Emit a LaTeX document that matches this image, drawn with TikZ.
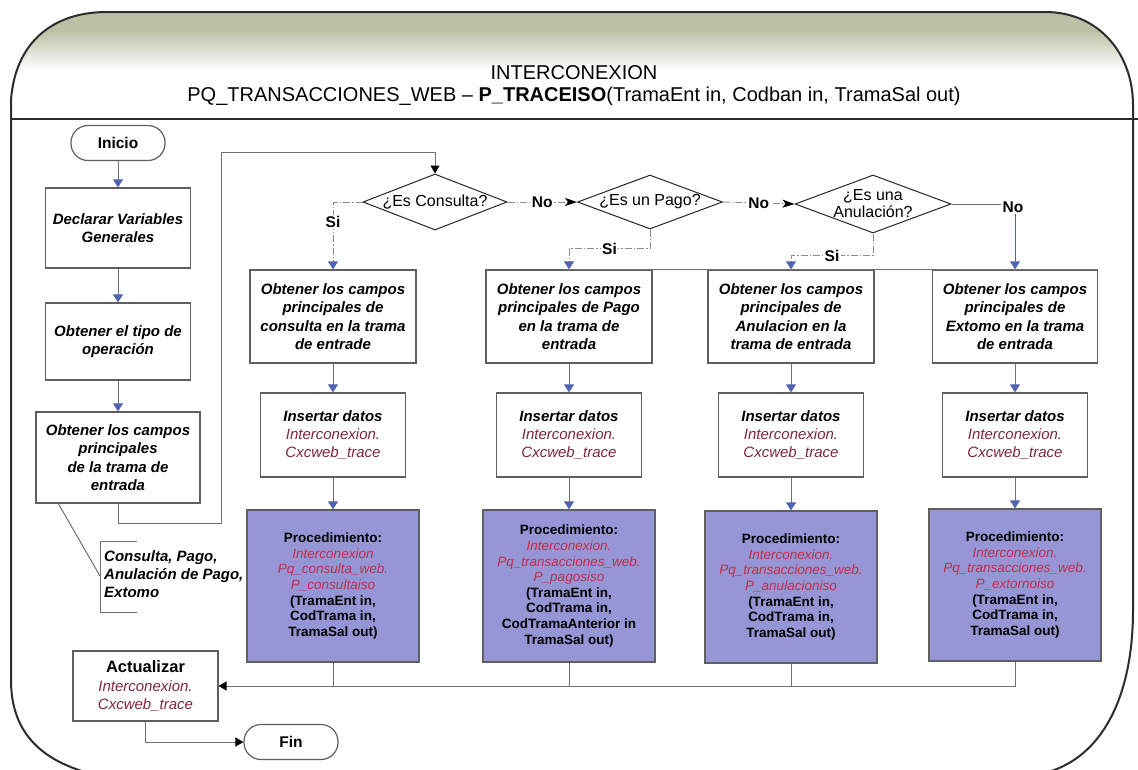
\documentclass[tikz,border=0pt]{standalone}
\usepackage{fontspec}
\setmainfont{Liberation Sans}
\usetikzlibrary{arrows.meta,shapes.geometric,calc}

\definecolor{hdrc}{RGB}{186,194,166}
\definecolor{framec}{RGB}{45,45,45}
\definecolor{linec}{RGB}{112,112,112}
\definecolor{dashc}{RGB}{140,140,140}
\definecolor{bluec}{RGB}{80,100,178}
\definecolor{boxc}{RGB}{95,95,95}
\definecolor{procc}{RGB}{150,150,214}
\definecolor{maroonc}{RGB}{125,40,60}
\definecolor{crimc}{RGB}{195,45,75}

% coloured italic fragments inside boxes
\newcommand\mrn[1]{{\mdseries\itshape\color{maroonc}#1}}
\newcommand\prt[1]{{\mdseries\itshape\color{crimc}#1}}

\begin{document}
\begin{tikzpicture}[x=1pt,y=-1pt,
  box/.style={draw=boxc, line width=1.2pt, fill=white, align=center, inner sep=0pt,
    font=\bfseries\itshape\fontsize{15}{18.3}\selectfont},
  proc/.style={draw=boxc, line width=1.2pt, fill=procc, align=center, inner sep=0pt,
    minimum width=172pt, minimum height=152pt, font=\fontsize{13.5}{15.6}\selectfont},
  term/.style={draw=boxc, line width=1.2pt, fill=white, rounded corners=17pt, inner sep=0pt,
    minimum width=94pt, minimum height=35pt, font=\bfseries\fontsize{15.5}{18}\selectfont},
  dia/.style={diamond, draw=black!85, line width=1pt, fill=white, inner sep=0pt},
  dtxt/.style={align=center, inner sep=0pt, font=\fontsize{16}{17}\selectfont},
  lbl/.style={fill=white, inner sep=1.5pt, font=\bfseries\fontsize{15.5}{18}\selectfont},
  anno/.style={align=left, inner sep=0pt, font=\bfseries\itshape\fontsize{15}{18}\selectfont},
  title/.style={align=center, inner sep=0pt, font=\fontsize{20}{22}\selectfont},
  plain/.style={draw=linec, line width=1pt},
  flow/.style={draw=linec, line width=1pt, -{Triangle[width=10pt,length=8pt,color=bluec]}},
  flowd/.style={flow, draw=dashc, dash pattern=on 7pt off 2pt on 1.5pt off 2pt},
  blk/.style={draw=linec, line width=1pt, -{Triangle[width=9pt,length=8pt,color=black]}},
  noarr/.style={draw=dashc, line width=0.9pt, dash pattern=on 7pt off 2pt on 1.5pt off 2pt,
    -{Stealth[length=12pt,width=8pt,inset=3pt,color=black]}},
]
\useasboundingbox (0,0) rectangle (1138,769);
\clip (0,0) rectangle (1138,769);

% header band
\begin{scope}
  \clip (11,119) -- (11,100) .. controls (15,45) and (50,12) .. (107,12) -- (1045,12)
        .. controls (1100,12) and (1133,55) .. (1133,105) -- (1133,119) -- cycle;
  \fill[hdrc] (0,0) rectangle (1138,32);
  \shade[top color=hdrc, bottom color=white] (0,31) rectangle (1138,70);
\end{scope}

% outer frame and header separator
\draw[framec, line width=2pt] (85,772) .. controls (35,757) and (11,727) .. (11,680)
  -- (11,100) .. controls (15,45) and (50,12) .. (107,12) -- (1045,12)
  .. controls (1100,12) and (1133,55) .. (1133,105) -- (1133,610)
  .. controls (1133,700) and (1100,757) .. (1048,772);
\draw[framec, line width=2pt] (11,119) -- (1138,119);

\node[title] (ttl) at (574,86) {INTERCONEXION\\PQ\_TRANSACCIONES\_WEB – \textbf{P\_TRACEISO}(TramaEnt in, Codban in, TramaSal out)};

% left column
\node[term] (ini) at (118,143) {Inicio};
\node[box, minimum width=145pt, minimum height=80pt] (dec) at (118,228) {Declarar Variables\\Generales};
\node[box, minimum width=145pt, minimum height=77pt] (tipo) at (118,341.5) {Obtener el tipo de\\operación};
\node[box, minimum width=164pt, minimum height=91pt] (cp0) at (118,457.5) {Obtener los campos\\principales\\de la trama de\\entrada};
\node[anno, anchor=west] (ann) at (104,574) {Consulta, Pago,\\Anulación de Pago,\\Extomo};
\node[box, minimum width=145pt, minimum height=70pt] (act) at (145.5,686) {\textbf{\upshape\fontsize{16.5}{18.3}\selectfont Actualizar}\\\mrn{Interconexion.}\\\mrn{Cxcweb\_trace}};
\node[term] (fin) at (291,742) {Fin};

% decisions
\node[dia, minimum width=144pt, minimum height=56pt] (d1) at (435,202) {};
\node[dtxt] (d1t) at (d1) {¿Es Consulta?};
\node[dia, minimum width=145pt, minimum height=54pt] (d2) at (650,202) {};
\node[dtxt] (d2t) at (d2) {¿Es un Pago?};
\node[dia, minimum width=156pt, minimum height=58pt] (d3) at (873,204) {};
\node[dtxt] (d3t) at (d3) {¿Es una\\Anulación?};

% operation columns
\node[box, minimum width=166pt, minimum height=93pt] (c1) at (333,316.5) {Obtener los campos\\principales de\\consulta en la trama\\de entrade};
\node[box, minimum width=166pt, minimum height=93pt] (c2) at (569,316.5) {Obtener los campos\\principales de Pago\\en la trama de\\entrada};
\node[box, minimum width=166pt, minimum height=93pt] (c3) at (791,316.5) {Obtener los campos\\principales de\\Anulacion en la\\trama de entrada};
\node[box, minimum width=165pt, minimum height=93pt] (c4) at (1015,316.5) {Obtener los campos\\principales de\\Extomo en la trama\\de entrada};

\foreach \n/\x in {i1/333, i2/569, i3/791, i4/1015}
  \node[box, minimum width=145pt, minimum height=84pt] (\n) at (\x,435) {Insertar datos\\\mrn{Interconexion.}\\\mrn{Cxcweb\_trace}};

\node[proc] (p1) at (333,586) {\textbf{Procedimiento:}\\\prt{Interconexion}\\\prt{Pq\_consulta\_web.}\\\prt{P\_consultaiso}\\\textbf{(TramaEnt in,}\\\textbf{CodTrama in,}\\\textbf{TramaSal out)}};
\node[proc] (p2) at (569,586) {\textbf{Procedimiento:}\\\prt{Interconexion.}\\\prt{Pq\_transacciones\_web.}\\\prt{P\_pagosiso}\\\textbf{(TramaEnt in,}\\\textbf{CodTrama in,}\\\textbf{CodTramaAnterior in}\\\textbf{TramaSal out)}};
\node[proc] (p3) at (791,587) {\textbf{Procedimiento:}\\\prt{Interconexion.}\\\prt{Pq\_transacciones\_web.}\\\prt{P\_anulacioniso}\\\textbf{(TramaEnt in,}\\\textbf{CodTrama in,}\\\textbf{TramaSal out)}};
\node[proc] (p4) at (1015,585) {\textbf{Procedimiento:}\\\prt{Interconexion.}\\\prt{Pq\_transacciones\_web.}\\\prt{P\_extornoiso}\\\textbf{(TramaEnt in,}\\\textbf{CodTrama in,}\\\textbf{TramaSal out)}};

% main sequence
\draw[flow] (ini.south) -- (dec.north);
\draw[flow] (dec.south) -- (tipo.north);
\draw[flow] (tipo.south) -- (cp0.north);

% return to the first decision
\coordinate (lpA) at (221,523);
\coordinate (lpB) at (221,152);
\draw[blk] (cp0.south) |- (lpA) -- (lpB) -| (d1.north);

% annotation bracket
\coordinate (anA) at (58,503);
\coordinate (anB) at (100,576);
\draw[plain] (anA) -- (anB);
\draw[plain] (137,541) -- (100,541) -- (100,612) -- (137,612);

% decision branches
\draw[flowd] (d1.west) -| node[lbl, pos=0.65] {Si} (c1.north);
\draw[flowd] (d2.south) -- ++(0,19) -| node[lbl, pos=0.25] {Si} (c2.north);
\draw[flowd] (d3.south) -- ++(0,22) -| node[lbl, pos=0.25] {Si} (c3.north);
\draw[noarr] (d1.east) -- node[lbl] {No} (d2.west);
\draw[noarr] (d2.east) -- node[lbl] {No} (d3.west);
\coordinate (no3) at (1015,204);
\draw[plain, line width=0.9pt] (d3.east) -- (no3);
\draw[flow, draw=bluec] (no3) -- (c4.north);
\node[lbl] (no3l) at (1013,207) {No};
\draw[draw=linec, line width=1.6pt] ($(c2.north)+(-6,0)$) -- (c4.north east);

% column flows
\foreach \k in {1,2,3,4} {
  \draw[flow] (c\k.south) -- (i\k.north);
  \draw[flow] (i\k.south) -- (p\k.north);
}

% merge into the update step
\draw[blk] (p4.south) |- (act.east);
\foreach \k in {1,2,3}
  \draw[plain] (p\k.south) -- (p\k.south |- act.east);
\draw[blk] (act.south) |- (fin.west);
\end{tikzpicture}
\end{document}
